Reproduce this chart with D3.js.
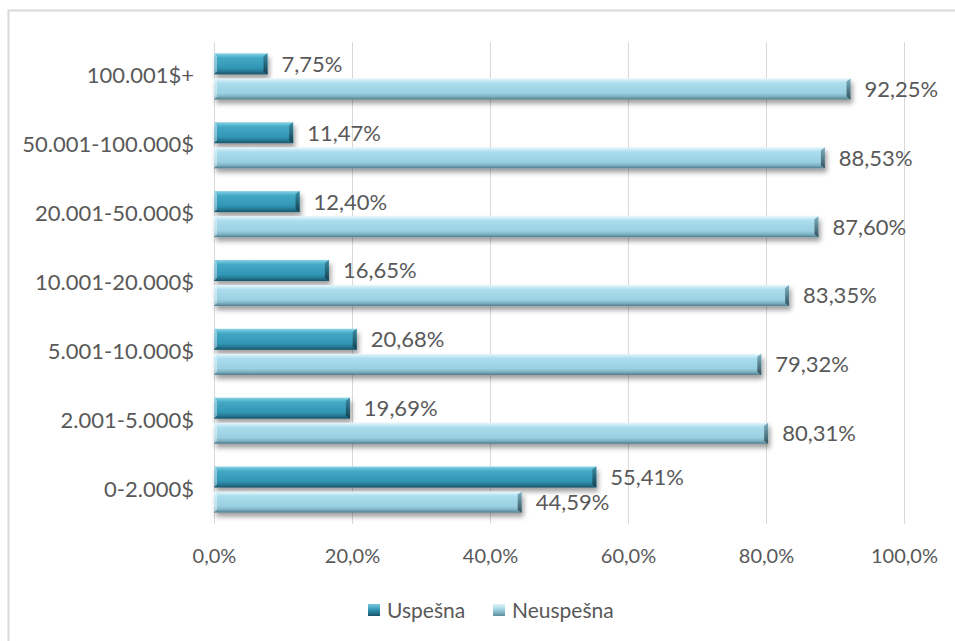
<!DOCTYPE html>
<html>
<head>
<meta charset="utf-8">
<script src="https://cdn.jsdelivr.net/npm/d3@7"></script>
<style>
  html, body { margin: 0; padding: 0; background: #fff; }
  svg { display: block; font-family: Lato, "Open Sans", sans-serif; }
</style>
</head>
<body>
<svg id="chart" width="955" height="641"></svg>
<script>
// Income brackets, listed top to bottom
const categories = ["100.001$+", "50.001-100.000$", "20.001-50.000$", "10.001-20.000$", "5.001-10.000$", "2.001-5.000$", "0-2.000$"];
const seriesNames = ["Uspešna", "Neuspešna"];
const uspesna = [7.75, 11.47, 12.40, 16.65, 20.68, 19.69, 55.41];
const neuspesna = [92.25, 88.53, 87.60, 83.35, 79.32, 80.31, 44.59];
const tickValues = [0, 20, 40, 60, 80, 100];

const svg = d3.select("#chart");
const textColor = "#595959";
const fontFamily = "Lato, 'Open Sans', sans-serif";
const fmt = v => v.toFixed(2).replace(".", ",") + "%";
const fmtTick = v => v.toFixed(1).replace(".", ",") + "%";

// Outer chart frame
svg.append("rect")
  .attr("x", 8.5).attr("y", 10.5)
  .attr("width", 960).attr("height", 650)
  .attr("fill", "#fff").attr("stroke", "#d9d9d9").attr("stroke-width", 2);

const plot = { left: 214, right: 904, top: 42, bottom: 524 };

const x = d3.scaleLinear().domain([0, 100]).range([plot.left, plot.right]);
const y = d3.scaleBand().domain(categories).range([plot.top, plot.bottom]).paddingInner(0.33).paddingOuter(0.165);
const ySub = d3.scaleBand().domain(seriesNames).range([0, y.bandwidth()]).paddingInner(0.16);

// Gradients and shadow for the bevelled bars
const defs = svg.append("defs");
function grad(id, stops, horizontal) {
  const g = defs.append("linearGradient").attr("id", id)
    .attr("x1", 0).attr("y1", 0).attr("x2", horizontal ? 1 : 0).attr("y2", horizontal ? 0 : 1);
  stops.forEach(([o, c]) => g.append("stop").attr("offset", o).attr("stop-color", c));
}
grad("gUsp", [[0, "#8fd4e6"], [0.1, "#64bfd7"], [0.22, "#44a8c5"], [0.7, "#3196b5"], [0.85, "#267a96"], [1, "#1a5467"]]);
grad("gNeu", [[0, "#e6f6fb"], [0.1, "#cbecf5"], [0.22, "#abdded"], [0.7, "#99d0e2"], [0.85, "#80b4c5"], [1, "#4e7c8b"]]);
grad("gUspEnd", [[0, "#3b8da6"], [1, "#123f4d"]]);
grad("gNeuEnd", [[0, "#7fb1c2"], [1, "#34515b"]]);
const f = defs.append("filter").attr("id", "shadow")
  .attr("x", "-5%").attr("y", "-30%").attr("width", "115%").attr("height", "190%");
f.append("feDropShadow").attr("dx", 2).attr("dy", 4).attr("stdDeviation", 2.4)
  .attr("flood-color", "#000").attr("flood-opacity", 0.38);

// Vertical gridlines
svg.append("g").selectAll("line").data(tickValues).join("line")
  .attr("x1", d => x(d) + 0.5).attr("x2", d => x(d) + 0.5)
  .attr("y1", plot.top).attr("y2", plot.bottom)
  .attr("stroke", "#d9d9d9").attr("stroke-width", 1);

// Bottom axis labels
const xAxis = d3.axisBottom(x).tickValues(tickValues).tickFormat(fmtTick).tickSize(0).tickPadding(0);
const ax = svg.append("g").attr("transform", `translate(0,${plot.bottom + 39})`).call(xAxis);
ax.select(".domain").remove();
ax.selectAll("text").attr("fill", textColor).attr("font-size", 20).attr("dy", 0)
  .attr("font-family", fontFamily);

// Category labels
const yAxis = d3.axisLeft(y).tickSize(0).tickPadding(0);
const ay = svg.append("g").attr("transform", `translate(${plot.left - 20},0)`).call(yAxis);
ay.select(".domain").remove();
ay.selectAll("text").attr("fill", textColor).attr("font-size", 22)
  .attr("font-family", fontFamily);

// Bars
const rows = categories.map((c, i) => ({ c, vals: [uspesna[i], neuspesna[i]] }));
const fills = { "Uspešna": ["url(#gUsp)", "url(#gUspEnd)"], "Neuspešna": ["url(#gNeu)", "url(#gNeuEnd)"] };

rows.forEach(r => {
  const g = svg.append("g").attr("transform", `translate(0,${y(r.c)})`);
  seriesNames.forEach((s, k) => {
    const v = r.vals[k];
    const y0 = ySub(s), h = ySub.bandwidth();
    const bg = g.append("g");
    bg.append("rect")
      .attr("x", x(0)).attr("y", y0)
      .attr("width", x(v) - x(0)).attr("height", h)
      .attr("fill", fills[s][0]).attr("filter", "url(#shadow)");
    // left bevel face
    bg.append("path")
      .attr("d", `M${x(0)},${y0} L${x(0) + 3},${y0 + 3} L${x(0) + 3},${y0 + h - 3} L${x(0)},${y0 + h} Z`)
      .attr("fill", "#ffffff").attr("opacity", 0.4);
    // right end bevel face
    bg.append("path")
      .attr("d", `M${x(v)},${y0} L${x(v) - 4},${y0 + 3} L${x(v) - 4},${y0 + h - 3} L${x(v)},${y0 + h} Z`)
      .attr("fill", fills[s][1]);
    g.append("text")
      .attr("x", x(v) + 14).attr("y", y0 + h / 2).attr("dy", "0.36em")
      .attr("fill", textColor).attr("font-size", 22)
      .attr("font-family", fontFamily)
      .text(fmt(v));
  });
});

// Legend
grad("gUspKey", [[0, "#7cc8dc"], [0.5, "#2f93b2"], [1, "#1a5467"]]);
grad("gNeuKey", [[0, "#e0f3f9"], [0.5, "#99d0e2"], [1, "#5d8c9b"]]);
const legend = svg.append("g").attr("transform", "translate(0,610)");
const legendItems = [
  { name: seriesNames[0], x: 368, fill: "url(#gUspKey)" },
  { name: seriesNames[1], x: 493, fill: "url(#gNeuKey)" }
];
legendItems.forEach(d => {
  legend.append("rect").attr("x", d.x).attr("y", -6).attr("width", 12).attr("height", 12).attr("fill", d.fill);
  legend.append("text").attr("x", d.x + 19).attr("y", 0).attr("dy", "0.36em")
    .attr("fill", textColor).attr("font-size", 21).attr("font-family", fontFamily).text(d.name);
});
</script>
</body>
</html>
